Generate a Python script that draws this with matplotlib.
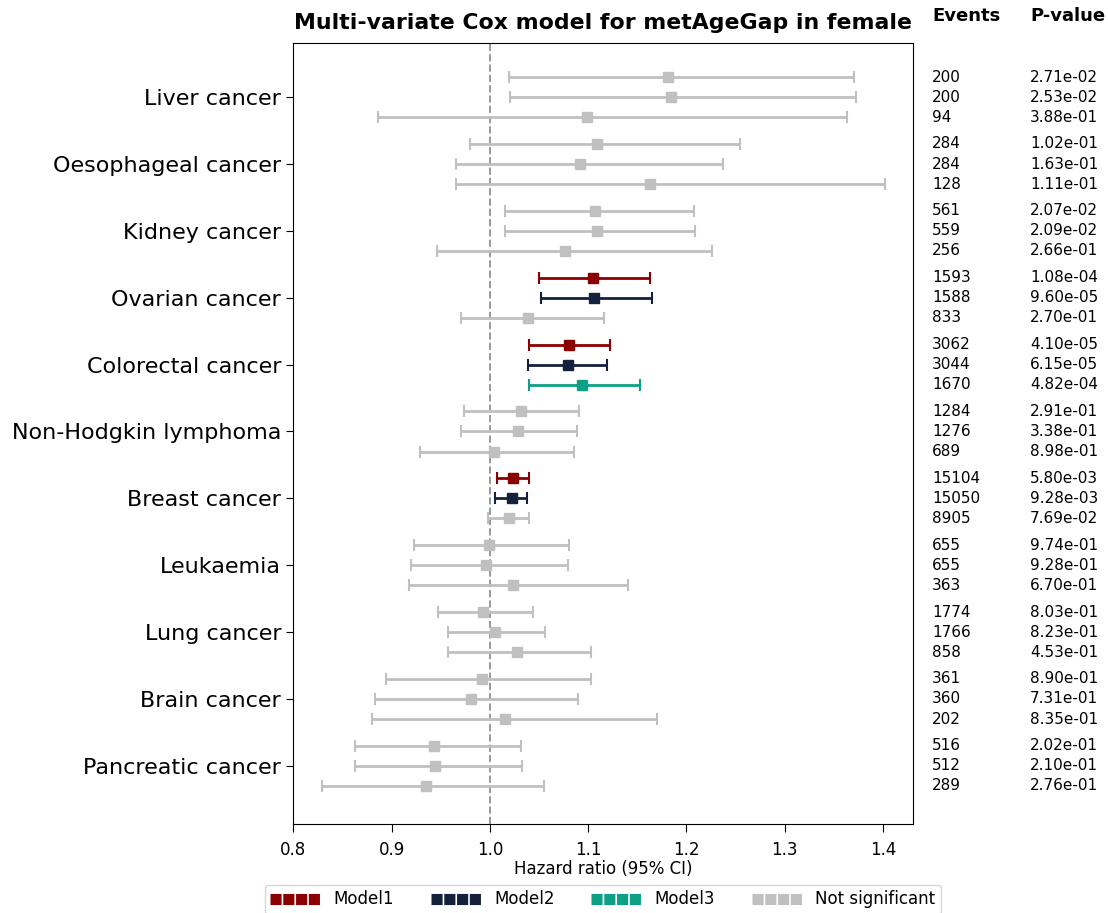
"""
Forest plot: multi-variate Cox model for metAgeGap in female
"""

import numpy as np
import matplotlib
matplotlib.use("Agg")
import matplotlib.pyplot as plt
import matplotlib.transforms as mtransforms
from matplotlib.lines import Line2D

cancers = ["Liver cancer", "Oesophageal cancer", "Kidney cancer", "Ovarian cancer",
           "Colorectal cancer", "Non-Hodgkin lymphoma", "Breast cancer", "Leukaemia",
           "Lung cancer", "Brain cancer", "Pancreatic cancer"]

# hazard ratios and 95% CI, one list per model
m1_hr = [1.181, 1.109, 1.107, 1.105, 1.080, 1.032, 1.023, 0.999, 0.993, 0.992, 0.943]
m1_lo = [1.019, 0.980, 1.015, 1.050, 1.040, 0.974, 1.007, 0.923, 0.947, 0.894, 0.863]
m1_hi = [1.370, 1.254, 1.208, 1.163, 1.122, 1.091, 1.040, 1.080, 1.044, 1.103, 1.032]

m2_hr = [1.184, 1.092, 1.109, 1.106, 1.079, 1.029, 1.022, 0.996, 1.005, 0.981, 0.944]
m2_lo = [1.020, 0.965, 1.015, 1.052, 1.039, 0.971, 1.005, 0.920, 0.957, 0.883, 0.863]
m2_hi = [1.373, 1.237, 1.209, 1.165, 1.119, 1.089, 1.038, 1.079, 1.056, 1.090, 1.033]

m3_hr = [1.099, 1.163, 1.076, 1.039, 1.094, 1.004, 1.019, 1.023, 1.028, 1.015, 0.935]
m3_lo = [0.886, 0.965, 0.946, 0.971, 1.040, 0.929, 0.998, 0.918, 0.957, 0.880, 0.829]
m3_hi = [1.363, 1.402, 1.226, 1.116, 1.153, 1.086, 1.040, 1.140, 1.103, 1.170, 1.055]

m1_events = [200, 284, 561, 1593, 3062, 1284, 15104, 655, 1774, 361, 516]
m2_events = [200, 284, 559, 1588, 3044, 1276, 15050, 655, 1766, 360, 512]
m3_events = [94, 128, 256, 833, 1670, 689, 8905, 363, 858, 202, 289]

m1_p = [2.71e-02, 1.02e-01, 2.07e-02, 1.08e-04, 4.10e-05, 2.91e-01, 5.80e-03, 9.74e-01, 8.03e-01, 8.90e-01, 2.02e-01]
m2_p = [2.53e-02, 1.63e-01, 2.09e-02, 9.60e-05, 6.15e-05, 3.38e-01, 9.28e-03, 9.28e-01, 8.23e-01, 7.31e-01, 2.10e-01]
m3_p = [3.88e-01, 1.11e-01, 2.66e-01, 2.70e-01, 4.82e-04, 8.98e-01, 7.69e-02, 6.70e-01, 4.53e-01, 8.35e-01, 2.76e-01]

model_names = ["Model1", "Model2", "Model3"]
model_colors = ["#8b0000", "#14213d", "#0e9f87"]
NS_COLOR = "#c0c0c0"
P_CUT = 0.01

models = [
    (m1_hr, m1_lo, m1_hi, m1_events, m1_p),
    (m2_hr, m2_lo, m2_hi, m2_events, m2_p),
    (m3_hr, m3_lo, m3_hi, m3_events, m3_p),
]
offsets = [0.3, 0.0, -0.3]

fig = plt.figure(figsize=(11.08, 9.13), dpi=100)
ax = fig.add_axes([0.2644, 0.0975, 0.5596, 0.8554])

centers = np.arange(len(cancers))[::-1]
ax.axvline(1.0, color="#999999", ls="--", lw=1.4, zorder=1)

trans = mtransforms.blended_transform_factory(ax.transAxes, ax.transData)
for k, (hr, lo, hi, ev, pv) in enumerate(models):
    for i in range(len(cancers)):
        y = centers[i] + offsets[k]
        c = model_colors[k] if pv[i] < P_CUT else NS_COLOR
        ax.errorbar(hr[i], y, xerr=[[hr[i] - lo[i]], [hi[i] - hr[i]]],
                    fmt="s", color=c, ms=7, elinewidth=2, capsize=4, capthick=1.5,
                    zorder=3 if c != NS_COLOR else 2)
        ax.text(1.0306, y, str(ev[i]), transform=trans, va="center", ha="left", fontsize=11)
        ax.text(1.1887, y, "%.2e" % pv[i], transform=trans, va="center", ha="left", fontsize=11)

ax.set_yticks(centers)
ax.set_yticklabels(cancers, fontsize=16)
ax.tick_params(axis="y", length=5)
ax.set_ylim(-0.87, len(cancers) - 1 + 0.81)
ax.set_xlim(0.7995, 1.4305)
ax.set_xticks([0.8, 0.9, 1.0, 1.1, 1.2, 1.3, 1.4])
ax.tick_params(axis="x", labelsize=12, length=6, pad=6)
ax.set_xlabel("Hazard ratio (95% CI)", fontsize=12, labelpad=1)
ax.set_title("Multi-variate Cox model for metAgeGap in female", fontsize=15.8,
             fontweight="bold", pad=10)

ax.text(1.0306, 1.0347, "Events", transform=ax.transAxes, fontsize=13,
        fontweight="bold", ha="left", va="center")
ax.text(1.1887, 1.0347, "P-value", transform=ax.transAxes, fontsize=13,
        fontweight="bold", ha="left", va="center")

handles = [Line2D([0], [0], color=c, lw=8, ls=(0, (1.0, 0.15))) for c in model_colors]
handles.append(Line2D([0], [0], color=NS_COLOR, lw=8, ls=(0, (1.0, 0.15))))
ax.legend(handles, model_names + ["Not significant"], loc="upper center",
          bbox_to_anchor=(0.5, -0.067), ncol=4, fontsize=12, frameon=True,
          handlelength=3, columnspacing=2.2, borderpad=0.35)

fig.savefig("out.png", dpi=100)
